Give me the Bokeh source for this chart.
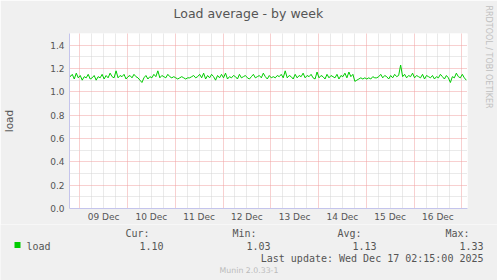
from bokeh.plotting import figure
from bokeh.layouts import column
from bokeh.models import (Range1d, FixedTicker, LinearAxis, Title, Label, NumeralTickFormatter)
from bokeh.embed import file_html
from bokeh.resources import INLINE

# ---- data (hourly load average, first point Dec 8 18:15) ----
load = [
    1.17, 1.13, 1.15, 1.11, 1.16, 1.12,
    # Dec 9
    1.14, 1.10, 1.13, 1.12, 1.15, 1.11, 1.12, 1.14, 1.10, 1.13, 1.12, 1.15,
    1.11, 1.14, 1.12, 1.16, 1.13, 1.12, 1.18, 1.12, 1.14, 1.13, 1.15, 1.11,
    # Dec 10
    1.13, 1.14, 1.12, 1.15, 1.13, 1.12, 1.10, 1.08, 1.12, 1.14, 1.11, 1.13,
    1.12, 1.15, 1.13, 1.18, 1.12, 1.14, 1.13, 1.12, 1.15, 1.13, 1.12, 1.13,
    # Dec 11
    1.12, 1.11, 1.12, 1.13, 1.12, 1.11, 1.12, 1.12, 1.13, 1.14, 1.12, 1.13,
    1.15, 1.12, 1.16, 1.11, 1.14, 1.12, 1.15, 1.13, 1.10, 1.14, 1.12, 1.15,
    # Dec 12
    1.12, 1.16, 1.11, 1.13, 1.12, 1.14, 1.13, 1.11, 1.15, 1.12, 1.13, 1.14,
    1.12, 1.11, 1.13, 1.15, 1.12, 1.13, 1.14, 1.12, 1.16, 1.13, 1.11, 1.14,
    # Dec 13
    1.12, 1.13, 1.12, 1.14, 1.13, 1.15, 1.12, 1.18, 1.12, 1.14, 1.13, 1.11,
    1.15, 1.12, 1.14, 1.13, 1.16, 1.12, 1.14, 1.13, 1.15, 1.12, 1.11, 1.17,
    # Dec 14
    1.12, 1.14, 1.13, 1.11, 1.15, 1.12, 1.14, 1.13, 1.12, 1.15, 1.11, 1.14,
    1.13, 1.16, 1.12, 1.17, 1.13, 1.15, 1.09, 1.10, 1.11, 1.12, 1.11, 1.12,
    # Dec 15
    1.11, 1.12, 1.11, 1.13, 1.12, 1.12, 1.13, 1.15, 1.12, 1.14, 1.13, 1.11,
    1.14, 1.12, 1.15, 1.13, 1.14, 1.23, 1.13, 1.15, 1.12, 1.14, 1.13, 1.16,
    # Dec 16
    1.12, 1.14, 1.13, 1.12, 1.15, 1.11, 1.14, 1.13, 1.12, 1.14, 1.11, 1.13,
    1.12, 1.15, 1.13, 1.11, 1.14, 1.12, 1.08, 1.13, 1.12, 1.16, 1.13, 1.12,
    # Dec 17
    1.15, 1.12, 1.10,
]
first_hour = 18.25  # hours since Dec 8 00:00
hours = [first_hour + i for i in range(len(load))]

day_labels = ["09 Dec", "10 Dec", "11 Dec", "12 Dec", "13 Dec", "14 Dec", "15 Dec", "16 Dec"]
label_hours = [36, 60, 84, 108, 132, 156, 180, 204]
midnights = [24, 48, 72, 96, 120, 144, 168, 192, 216]
six_hours = [h for h in range(18, 219, 6) if h % 24 != 0]
y_major = [0.0, 0.2, 0.4, 0.6, 0.8, 1.0, 1.2, 1.4]
y_minor = [0.1, 0.3, 0.5, 0.7, 0.9, 1.1, 1.3, 1.5]

stat_heads = ["Cur:", "Min:", "Avg:", "Max:"]
stat_values = ["1.10", "1.03", "1.13", "1.33"]
series_name = "load"
title_text = "Load average - by week"
last_update = "Last update: Wed Dec 17 02:15:00 2025"
side_text = "RRDTOOL / TOBI OETIKER"
footer_text = "Munin 2.0.33-1"

W = 497
H_MAIN, H_FOOT = 224, 56
x0, x1 = 18.85, 218.85
TXT = "#555555"
AXC = "#c4c4ec"
GREEN = "#00cc00"
BG = "#f0f0f0"

# ================= main chart =================
p = figure(width=W, height=H_MAIN, x_range=Range1d(x0, x1), y_range=Range1d(0, 1.5),
           output_backend="svg", toolbar_location=None,
           min_border_left=67, min_border_right=30, min_border_top=33, min_border_bottom=16,
           background_fill_color="white", border_fill_color=BG, outline_line_color=None)

xax = p.below[0]
yax = p.left[0]

# grids
p.xgrid.ticker = FixedTicker(ticks=midnights, minor_ticks=six_hours)
p.ygrid.ticker = FixedTicker(ticks=y_major, minor_ticks=y_minor)
for g in (p.xgrid, p.ygrid):
    g.grid_line_color = "#f0a0a0"
    g.grid_line_dash = "1 1"
    g.minor_grid_line_color = "#d4d4d4"
    g.minor_grid_line_dash = "1 1"

# axes
xax.ticker = FixedTicker(ticks=label_hours)
xax.major_label_overrides = {h: l for h, l in zip(label_hours, day_labels)}
yax.ticker = FixedTicker(ticks=y_major)
yax.formatter = NumeralTickFormatter(format="0.0")
for ax in (xax, yax):
    ax.axis_line_color = AXC
    ax.major_tick_line_color = None
    ax.minor_tick_line_color = None
    ax.major_tick_out = 0
    ax.major_tick_in = 0
    ax.major_label_text_font = "DejaVu Sans"
    ax.major_label_text_font_size = "9px"
    ax.major_label_text_color = TXT
yax.major_label_standoff = 5
xax.major_label_standoff = 3
yax.axis_label = series_name
yax.axis_label_text_font = "DejaVu Sans"
yax.axis_label_text_font_size = "10.5px"
yax.axis_label_text_font_style = "normal"
yax.axis_label_text_color = TXT
yax.axis_label_standoff = 32

# ---- title ----
p.title.text = title_text
p.title.text_font = "DejaVu Sans"
p.title.text_font_size = "12.5px"
p.title.text_font_style = "normal"
p.title.text_color = TXT
p.title.align = "left"
p.title.offset = 104
p.title.standoff = 0
p.title.vertical_align = "middle"


def spacer(tick, size):
    # an axis whose single (background coloured) tick only reserves room
    return LinearAxis(ticker=FixedTicker(ticks=[tick]), axis_line_color=None,
                      major_tick_line_color=BG, minor_tick_line_color=None,
                      major_tick_out=size, major_tick_in=0, major_label_standoff=0,
                      major_label_overrides={tick: ""})


p.add_layout(spacer(100, 12), "above")
p.add_layout(spacer(0.75, 15), "right")
p.add_layout(Title(text=side_text, text_font="DejaVu Sans", text_font_size="8px",
                   text_font_style="normal", text_color="#c0c0c0", align="left",
                   offset=-28, standoff=0, vertical_align="middle"), "right")

# ---- data line ----
p.line(hours, load, line_color=GREEN, line_width=1)

# ================= legend / statistics strip =================
f = figure(width=W, height=H_FOOT, x_range=Range1d(0, W), y_range=Range1d(H_FOOT, 0),
           output_backend="svg", toolbar_location=None, min_border=0,
           min_border_left=0, min_border_right=0, min_border_top=0, min_border_bottom=0,
           x_axis_type=None, y_axis_type=None,
           background_fill_color=BG, border_fill_color=BG, outline_line_color=None)
for fig in (p, f):
    try:
        fig.frame_align = False
    except Exception:
        pass
OFF = H_MAIN  # strip starts at this page row

f.rect(x=[17], y=[244.5 - OFF], width=6, height=6, fill_color=GREEN, line_color=None)

MONO = "DejaVu Sans Mono"


def flab(x, y, text, align="left", size="10px", font=MONO, color=TXT):
    f.add_layout(Label(x=x, y=y - OFF, text=text, text_align=align, text_baseline="middle",
                       text_font=font, text_font_size=size, text_color=color))


flab(26, 245.5, series_name)
for xr, t in zip([149, 256, 361, 469], stat_heads):
    flab(xr, 233.3, t, align="right")
for xr, t in zip([163, 270, 376, 483], stat_values):
    flab(xr, 245.5, t, align="right")
flab(483, 257.5, last_update, align="right")
flab(248.5, 269.5, footer_text, align="center", size="7.8px", font="DejaVu Sans", color="#bbbbbb")

layout = column(p, f, spacing=0)
open("out.html", "w").write(file_html(layout, INLINE))
